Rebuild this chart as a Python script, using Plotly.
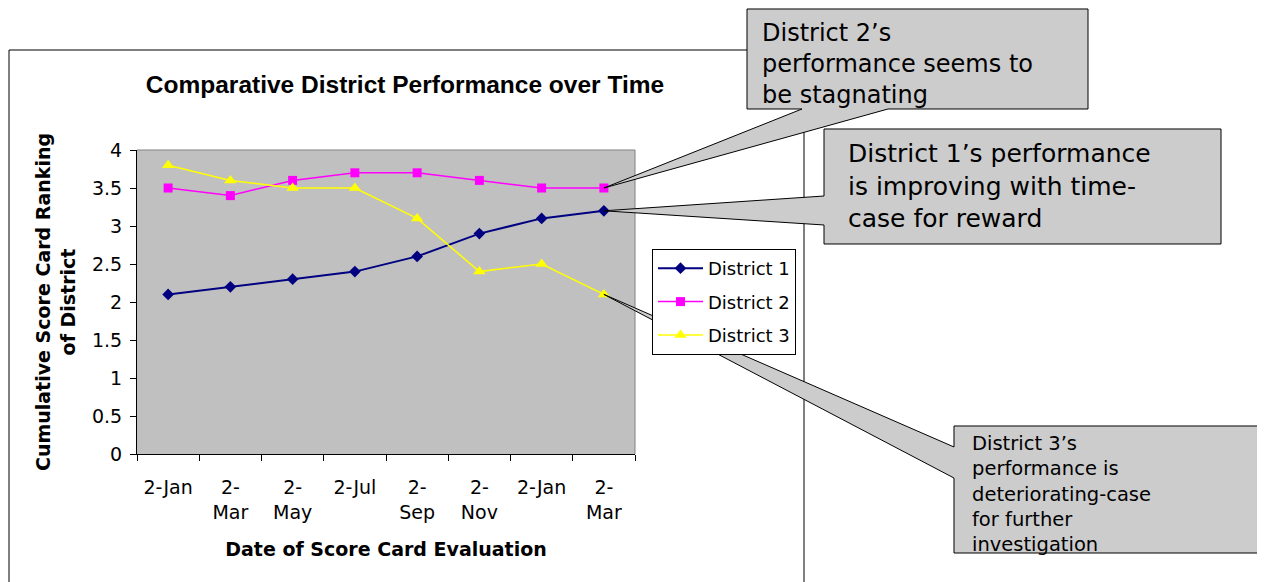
import plotly.graph_objects as go

# ---------------- data ----------------
tick_labels = ["2-Jan", "2-<br>Mar", "2-<br>May", "2-Jul", "2-<br>Sep", "2-<br>Nov", "2-Jan", "2-<br>Mar"]
district_1 = [2.1, 2.2, 2.3, 2.4, 2.6, 2.9, 3.1, 3.2]
district_2 = [3.5, 3.4, 3.6, 3.7, 3.7, 3.6, 3.5, 3.5]
district_3 = [3.8, 3.6, 3.5, 3.5, 3.1, 2.4, 2.5, 2.1]
series_names = ["District 1", "District 2", "District 3"]
y_ticks = [0, 0.5, 1, 1.5, 2, 2.5, 3, 3.5, 4]

callout_texts = [
    "District 2\u2019s<br>performance seems to<br>be stagnating",
    "District 1\u2019s performance<br>is improving with time-<br>case for reward",
    "District 3\u2019s<br>performance is<br>deteriorating-case<br>for further<br>investigation",
]

x_idx = list(range(len(tick_labels)))
XR = [-0.5, len(tick_labels) - 0.5]
YR = [0, 4]

# ---------------- layout geometry (screen pixels) ----------------
OFF = 8                      # page body margin
W_, H_ = 1265 - OFF, 582 - OFF
L, R, T, B = 137, 635, 150, 454   # plot area on screen
PW, PH = R - L, B - T


def px(x):
    return (x - L) / PW


def py(y):
    return (B - y) / PH


def data_paper(i, v):
    return (i - XR[0]) / (XR[1] - XR[0]), (v - YR[0]) / (YR[1] - YR[0])


def path(points):
    return "M " + " L ".join(f"{a:.5f},{b:.5f}" for a, b in points) + " Z"


fig = go.Figure()

styles = [
    dict(color="#000080", symbol="diamond", size=9, width=2),
    dict(color="#FF00FF", symbol="square", size=9, width=1.5),
    dict(color="#FFFF00", symbol="triangle-up", size=11, width=1.5),
]
for name, vals, st in zip(series_names, [district_1, district_2, district_3], styles):
    fig.add_trace(go.Scatter(
        x=x_idx, y=vals, name=name, mode="lines+markers",
        line=dict(color=st["color"], width=st["width"]),
        marker=dict(color=st["color"], symbol=st["symbol"], size=st["size"],
                    line=dict(width=0)),
        legendgroup=name,
    ))

shapes = []
# outer chart frame
shapes.append(dict(type="rect", xref="paper", yref="paper",
                   x0=px(9), x1=px(804), y0=py(600), y1=py(50),
                   line=dict(color="black", width=1), layer="below"))
# plot area top/right border (gray)
shapes.append(dict(type="line", xref="paper", yref="paper", x0=0, x1=1, y0=1, y1=1,
                   line=dict(color="#808080", width=1)))
shapes.append(dict(type="line", xref="paper", yref="paper", x0=1, x1=1, y0=0, y1=1,
                   line=dict(color="#808080", width=1)))

n = len(tick_labels) - 1
tip2 = data_paper(n, district_2[-1])
tip1 = data_paper(n, district_1[-1])
tip3 = data_paper(n, district_3[-1])

fill = "#CCCCCC"
callout_paths = [
    path([(px(747), py(9)), (px(1088), py(9)), (px(1088), py(109)), (px(888), py(109)),
          tip2, (px(802), py(109)), (px(747), py(109))]),
    path([(px(824), py(129)), (px(1221), py(129)), (px(1221), py(244)), (px(824), py(244)),
          (px(824), py(225)), tip1, (px(824), py(196))]),
    path([(px(954), py(426)), (px(1264), py(426)), (px(1264), py(553)), (px(954), py(553)),
          (px(954), py(478)), tip3, (px(954), py(447))]),
]
for p in callout_paths:
    shapes.append(dict(type="path", xref="paper", yref="paper", path=p,
                       fillcolor=fill, line=dict(color="black", width=1), layer="above"))

annotations = [
    dict(text=callout_texts[0], x=px(760), y=py(17), xref="paper", yref="paper",
         xanchor="left", yanchor="top", align="left", showarrow=False,
         font=dict(family="DejaVu Sans", size=24, color="black")),
    dict(text=callout_texts[1], x=px(846), y=py(137), xref="paper", yref="paper",
         xanchor="left", yanchor="top", align="left", showarrow=False,
         font=dict(family="DejaVu Sans", size=25, color="black")),
    dict(text=callout_texts[2], x=px(970), y=py(430), xref="paper", yref="paper",
         xanchor="left", yanchor="top", align="left", showarrow=False,
         font=dict(family="DejaVu Sans", size=19.5, color="black")),
]

fig.update_layout(
    width=W_, height=H_,
    margin=dict(l=L - OFF, r=W_ - (R - OFF), t=T - OFF, b=H_ - (B - OFF), autoexpand=False),
    paper_bgcolor="white",
    plot_bgcolor="#C0C0C0",
    title=dict(text="<b>Comparative District Performance over Time</b>",
               x=px(405), xref="paper", xanchor="center",
               y=1 - (84 - OFF) / H_, yref="container", yanchor="middle",
               font=dict(family="Liberation Sans, Arial", size=24.5, color="black")),
    xaxis=dict(
        range=XR, tickmode="array", tickvals=x_idx, ticktext=tick_labels,
        ticks="", ticklabelstandoff=16, showgrid=False, zeroline=False,
        showline=True, linecolor="black", linewidth=1,
        tickfont=dict(family="DejaVu Sans", size=19, color="black"),
        minor=dict(tickmode="array", tickvals=[i - 0.5 for i in range(len(tick_labels) + 1)],
                   ticks="outside", ticklen=6, tickcolor="black", tickwidth=1, showgrid=False),
        title=dict(text="<b>Date of Score Card Evaluation</b>", standoff=21,
                   font=dict(family="DejaVu Sans", size=19, color="black")),
        fixedrange=True,
    ),
    yaxis=dict(
        range=YR, tickmode="array", tickvals=y_ticks,
        ticktext=[f"{v:g}" for v in y_ticks],
        ticks="outside", ticklen=6, tickcolor="black", ticklabelstandoff=4,
        showgrid=False, zeroline=False,
        showline=True, linecolor="black", linewidth=1,
        tickfont=dict(family="DejaVu Sans", size=19, color="black"),
        title=dict(text="<b>Cumulative Score Card Ranking<br>of District</b>", standoff=11,
                   font=dict(family="DejaVu Sans", size=19, color="black")),
        fixedrange=True,
    ),
    legend=dict(
        x=px(652), y=py(249), xanchor="left", yanchor="top",
        bgcolor="white", bordercolor="black", borderwidth=1,
        font=dict(family="DejaVu Sans", size=18, color="black"),
        itemwidth=45, tracegroupgap=7, traceorder="grouped",
    ),
    shapes=shapes,
    annotations=annotations,
    showlegend=True,
)

fig.write_html("out.html")
